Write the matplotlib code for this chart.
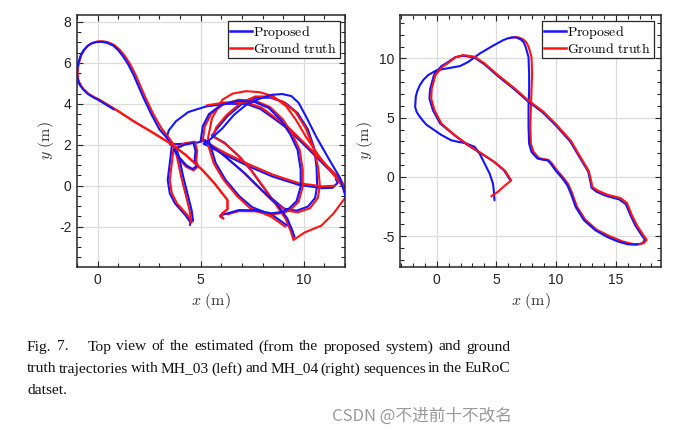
import matplotlib
matplotlib.use("Agg")
import matplotlib.pyplot as plt
import numpy as np
from matplotlib.ticker import MultipleLocator
from matplotlib.lines import Line2D

plt.rcParams['font.family'] = ['Liberation Sans', 'DejaVu Sans']
plt.rcParams['mathtext.fontset'] = 'cm'
plt.rcParams['axes.unicode_minus'] = False

# ---------------- data ----------------
# MH_03 (left), Proposed (blue) segments
mh03_prop_teardrop = [(3.6,1.95),(3.35,2.35),(3.0,2.75),(2.6,3.5),(2.2,4.35),(1.75,5.4),(1.5,5.9),(1.25,6.3),(1.0,6.62),(0.75,6.85),(0.45,6.98),(0.2,7.03),(-0.05,7.02),(-0.3,6.95),(-0.5,6.82),(-0.68,6.62),(-0.82,6.38),(-0.92,6.05),(-0.98,5.75),(-1.0,5.5),(-0.97,5.2),(-0.88,4.95),(-0.72,4.72),(-0.5,4.5),(-0.22,4.32),(0.05,4.18),(0.8,3.72)]
mh03_prop_arc = [(3.35,2.35),(3.45,2.7),(3.8,3.15),(4.4,3.6),(5.25,3.87),(6.2,4.0),(7.2,4.0),(7.9,3.75),(8.6,3.25),(9.2,2.8),(10.1,1.92),(11.07,0.94),(11.72,0.29),(12.1,-0.4)]
mh03_prop_toploop = [(12.05,-0.6),(11.75,0.4),(11.25,1.25),(10.6,2.4),(10.1,3.4),(9.75,4.05),(9.4,4.38),(8.95,4.48),(8.45,4.44),(7.85,4.25),(7.2,3.95),(6.6,3.45),(6.05,2.8),(5.5,2.3),(5.15,2.05)]
mh03_prop_middle = [(5.15,2.05),(6.2,1.5),(7.35,0.94),(8.48,0.45),(9.77,0.04),(10.9,-0.12),(11.4,-0.1),(11.65,0.15),(11.55,0.32)]
mh03_prop_inner = [(5.0,2.2),(5.1,2.9),(5.4,3.5),(6.0,3.95),(6.8,4.15),(7.6,4.1),(8.3,3.8),(8.9,3.2),(9.35,2.5),(9.7,1.75),(9.85,0.78),(9.85,-0.05),(9.65,-0.75),(9.3,-1.1),(9.0,-1.27),(8.45,-1.35),(7.65,-1.2),(6.85,-1.19),(6.3,-1.35),(5.95,-1.45),(6.05,-1.55)]
mh03_prop_right = [(5.55,2.45),(6.15,2.1),(6.85,1.45),(7.45,0.75),(7.95,0.05),(8.45,-0.62),(9.05,-1.12),(9.65,-1.22),(10.2,-1.02),(10.55,-0.6),(10.65,0.0),(10.62,0.9),(10.5,1.85),(10.2,2.75),(9.7,3.55),(9.1,4.05),(8.4,4.3),(7.7,4.3),(7.0,4.0),(6.3,3.4),(5.8,2.8),(5.55,2.45)]
mh03_prop_steep = [(5.2,2.2),(6.2,1.42),(7.15,0.6),(7.95,-0.2),(8.7,-0.9),(9.2,-1.6),(9.45,-2.2),(9.55,-2.5)]
mh03_prop_lower = [(5.4,2.2),(5.73,1.1),(6.2,0.3),(6.86,-0.5),(7.5,-1.05),(8.5,-1.45),(9.2,-1.95)]
mh03_prop_small = [(3.7,1.75),(4.2,2.0),(4.65,2.1),(4.75,1.7),(4.7,1.2),(4.8,0.95),(4.6,0.82),(4.3,1.0),(3.95,1.4),(3.7,1.75)]
mh03_prop_strand1 = [(3.6,1.95),(3.5,1.1),(3.4,0.28),(3.5,-0.37),(3.75,-0.86),(4.25,-1.43),(4.5,-1.78),(4.48,-1.92)]
mh03_prop_strand2 = [(3.85,1.7),(3.95,1.4),(4.15,0.45),(4.4,-0.55),(4.56,-1.2),(4.63,-1.7)]
mh03_prop_link = [(3.5,2.02),(4.2,2.05),(4.8,2.1),(5.2,2.2)]

# MH_03 (left), Ground truth (red) segments
mh03_gt_teardrop = [(3.7,2.0),(3.45,2.35),(3.1,2.8),(2.7,3.5),(2.3,4.35),(1.85,5.4),(1.6,5.9),(1.35,6.3),(1.08,6.64),(0.8,6.88),(0.5,7.01),(0.25,7.06),(0.0,7.05),(-0.25,6.98),(-0.46,6.85),(-0.63,6.65),(-0.78,6.4),(-0.88,6.08),(-0.95,5.78),(-0.97,5.5),(-0.94,5.2),(-0.85,4.95),(-0.68,4.72),(-0.45,4.5),(-0.18,4.34),(0.1,4.2),(0.85,3.74),(1.75,3.15),(2.75,2.55),(3.55,2.05),(4.25,1.52),(5.05,0.8),(5.65,0.14),(6.3,-0.7),(6.3,-1.15),(6.05,-1.35),(5.95,-1.5),(6.1,-1.6)]
mh03_gt_toploop = [(5.35,2.3),(5.55,3.3),(6.05,4.2),(6.55,4.5),(7.2,4.62),(7.85,4.57),(8.5,4.38),(9.15,3.88),(9.62,3.22),(10.1,2.4),(10.75,1.43),(11.4,0.6),(11.9,-0.05),(12.1,-0.5)]
mh03_gt_arc = [(5.3,3.93),(6.2,4.07),(7.2,4.07),(7.95,3.82),(8.65,3.3),(9.25,2.85),(10.15,1.97),(11.1,1.0),(11.78,0.32),(12.15,-0.35)]
mh03_gt_middle = [(5.2,2.15),(6.2,1.6),(7.35,1.04),(8.48,0.55),(9.77,0.12),(10.9,-0.03),(11.5,0.0)]
mh03_gt_inner = [(5.1,2.2),(5.2,2.9),(5.5,3.5),(6.1,3.98),(6.85,4.2),(7.65,4.15),(8.35,3.85),(8.98,3.25),(9.43,2.55),(9.8,1.75),(9.95,0.78),(9.95,-0.05),(9.75,-0.78),(9.38,-1.15),(9.05,-1.32),(8.45,-1.4),(7.65,-1.25),(6.85,-1.24),(6.3,-1.4)]
mh03_gt_right = [(5.6,2.4),(6.2,2.05),(6.9,1.4),(7.5,0.7),(8.0,0.0),(8.5,-0.7),(9.1,-1.2),(9.7,-1.3),(10.3,-1.1),(10.68,-0.6),(10.78,0.0),(10.7,0.9),(10.45,1.9),(10.1,2.8),(9.6,3.6),(9.0,4.1),(8.35,4.36),(7.65,4.36),(6.95,4.05),(6.25,3.45),(5.75,2.85),(5.6,2.4)]
mh03_gt_steep = [(5.2,2.25),(6.1,1.5),(7.05,0.67),(7.88,-0.15),(8.62,-0.88),(9.12,-1.62),(9.38,-2.25),(9.5,-2.65),(10.05,-2.28),(10.85,-1.95),(11.45,-1.35),(11.85,-0.8),(12.0,-0.6)]
mh03_gt_lower = [(5.3,2.2),(5.63,1.1),(6.1,0.3),(6.76,-0.5),(7.4,-1.1),(8.4,-1.5),(9.1,-2.0)]
mh03_gt_small = [(3.75,1.85),(4.25,2.08),(4.72,2.15),(4.83,1.7),(4.78,1.2),(4.88,0.95),(4.65,0.75),(4.3,0.92),(3.9,1.35)]
mh03_gt_strand1 = [(3.7,1.95),(3.6,1.1),(3.5,0.28),(3.6,-0.37),(3.85,-0.86),(4.35,-1.43),(4.6,-1.75)]
mh03_gt_strand2 = [(3.75,1.75),(3.85,1.4),(4.05,0.45),(4.3,-0.55),(4.46,-1.2),(4.55,-1.8)]

# MH_04 (right)
mh04_prop = [(6.15,-0.25),(5.65,0.55),(4.8,1.28),(3.7,2.0),(2.55,2.72),(1.45,3.55),(0.3,4.5),(-0.3,5.6),(-0.6,6.6),(-0.55,7.4),(-0.22,8.6),(0.4,9.35),(0.9,9.65),(1.55,10.1),(2.2,10.22),(3.15,10.08),(4.0,9.5),(5.1,8.53),(6.5,7.4),(7.6,6.42),(8.9,5.43),(10.0,4.33),(11.2,2.98),(12.0,1.62),(12.7,0.45),(12.88,-0.38),(12.98,-0.92),(13.4,-1.25),(14.2,-1.6),(15.3,-1.9),(15.85,-2.3),(16.25,-3.25),(16.65,-4.1),(17.1,-4.8),(17.45,-5.3),(17.25,-5.6),(16.7,-5.72),(16.0,-5.68),(15.2,-5.45),(14.3,-5.07),(13.3,-4.5),(12.35,-3.66),(11.65,-2.54),(11.25,-1.41),(10.95,-0.7),(10.55,-0.14),(9.95,0.56),(9.55,1.13),(9.3,1.4),(8.9,1.45),(8.45,1.55),(7.95,2.1),(7.75,2.8),(7.7,4.2),(7.7,5.9),(7.75,7.3),(7.75,8.7),(7.7,10.1),(7.45,11.0),(7.3,11.35),(7.05,11.6),(6.7,11.75),(6.35,11.78),(6.0,11.7),(5.6,11.55),(4.6,11.0),(3.6,10.4),(2.65,9.7),(1.95,9.35),(0.85,9.15),(0.0,9.0),(-0.7,8.6),(-1.1,8.2),(-1.4,7.75),(-1.62,7.25),(-1.75,6.75),(-1.8,5.9),(-1.68,5.5),(-1.5,5.2),(-1.2,4.8),(-0.85,4.4),(0.38,3.55),(1.2,3.1),(1.78,2.96),(2.34,2.87),(3.18,2.54),(3.6,1.97),(4.02,1.13),(4.44,0.28),(4.72,-0.56),(4.8,-1.26),(4.85,-1.97)]
mh04_gt_a = [(4.58,-1.63),(5.13,-1.26),(5.69,-0.75),(6.25,-0.3),(5.75,0.5),(4.9,1.22),(3.8,1.95),(2.65,2.68),(1.55,3.5),(0.4,4.5),(-0.17,5.6),(-0.45,6.6),(-0.42,7.4),(-0.1,8.6),(0.5,9.3),(0.95,9.6),(1.6,10.1),(2.2,10.28),(3.18,10.14),(4.02,9.57),(5.13,8.6),(6.53,7.47),(7.65,6.48),(8.95,5.5),(10.05,4.4),(11.25,3.05),(12.05,1.68),(12.75,0.5),(12.95,-0.35),(13.05,-0.85),(13.5,-1.15),(14.3,-1.5),(15.4,-1.78),(15.95,-2.2),(16.35,-3.2),(16.8,-4.1),(17.25,-4.8),(17.6,-5.3),(17.4,-5.55),(17.0,-5.68)]
mh04_gt_b = [(17.0,-5.68),(16.4,-5.65),(15.6,-5.45),(14.5,-5.0),(13.4,-4.45),(12.45,-3.6),(11.75,-2.5),(11.35,-1.35),(11.05,-0.65),(10.65,-0.1),(10.05,0.6),(9.65,1.15),(9.35,1.45),(8.95,1.5),(8.55,1.6),(8.1,2.15),(7.9,2.8),(7.85,4.2),(7.9,5.9),(7.95,7.3),(8.0,8.7),(7.95,10.1),(7.7,11.0),(7.5,11.38),(7.25,11.6),(6.9,11.76),(6.55,11.8),(6.1,11.7)]

legend_labels = [r'$\mathrm{Proposed}$', r'$\mathrm{Ground\ truth}$']
caption_lines = [
    "Fig. 7.|Top view of the estimated (from the proposed system) and ground",
    "truth trajectories with MH_03 (left) and MH_04 (right) sequences in the EuRoC",
    "datset.",
]
watermark = "CSDN @不进前十不改名"

# ---------------- figure ----------------
W, H = 682, 434
fig = plt.figure(figsize=(W/100, H/100), dpi=100)
BLUE, RED = '#1414ff', '#ff1414'
LW = 1.5
FRAME = '#262626'

def px_axes(l, t, r, b):
    return fig.add_axes([l/W, 1-b/H, (r-l)/W, (b-t)/H])

axL = px_axes(77, 15, 345, 267)
axR = px_axes(400, 15, 661, 267)

def draw(ax, seg, color, z):
    a = np.array(seg, dtype=float)
    ax.plot(a[:, 0], a[:, 1], color=color, lw=LW, zorder=z,
            solid_joinstyle='round', solid_capstyle='round')

gt_left = [mh03_gt_teardrop, mh03_gt_toploop, mh03_gt_arc, mh03_gt_middle, mh03_gt_inner,
           mh03_gt_right, mh03_gt_steep, mh03_gt_lower, mh03_gt_small, mh03_gt_strand1, mh03_gt_strand2]
prop_left = [mh03_prop_teardrop, mh03_prop_arc, mh03_prop_toploop, mh03_prop_middle, mh03_prop_inner,
             mh03_prop_right, mh03_prop_steep, mh03_prop_lower, mh03_prop_small, mh03_prop_strand1,
             mh03_prop_strand2, mh03_prop_link]
for i, s in enumerate(prop_left):
    draw(axL, s, BLUE, 3 if i % 2 == 0 else 2)
for i, s in enumerate(gt_left):
    draw(axL, s, RED, 2.5)
draw(axL, mh03_gt_teardrop[26:], RED, 3.5)

draw(axR, mh04_gt_b, RED, 2)
draw(axR, mh04_prop, BLUE, 3)
draw(axR, mh04_gt_a, RED, 4)

def style(ax, xlim, ylim, xmaj, xmin, ymaj, ymin, ylab_x):
    ax.set_xlim(*xlim)
    ax.set_ylim(*ylim)
    ax.xaxis.set_major_locator(MultipleLocator(xmaj))
    ax.xaxis.set_minor_locator(MultipleLocator(xmin))
    ax.yaxis.set_major_locator(MultipleLocator(ymaj))
    ax.yaxis.set_minor_locator(MultipleLocator(ymin))
    ax.grid(True, which='major', color='#dcdcdc', lw=0.9, zorder=0)
    ax.set_axisbelow(True)
    ax.tick_params(which='both', direction='in', top=True, right=True,
                   color=FRAME, width=0.8, labelsize=10, pad=4, labelcolor='#222222')
    ax.tick_params(which='major', length=4)
    ax.tick_params(which='minor', length=3)
    for sp in ax.spines.values():
        sp.set_color(FRAME)
        sp.set_linewidth(1.1)
    ax.set_xlabel(r'$x\ (\mathrm{m})$', fontsize=11.5, color='#333333')
    ax.set_ylabel(r'$y\ (\mathrm{m})$', fontsize=11.5, color='#333333')
    ax.xaxis.set_label_coords(0.5, -0.095)
    ax.yaxis.set_label_coords(ylab_x, 0.5)

style(axL, (-1.0, 12.0), (-3.97, 8.34), 5, 1, 2, 0.5, -0.078)
style(axR, (-3.07, 18.8), (-7.6, 13.66), 5, 1, 5, 1, -0.096)

handles = [Line2D([], [], color=BLUE, lw=1.8), Line2D([], [], color=RED, lw=1.8)]
for ax, bx in ((axL, 0.981), (axR, 0.973)):
    leg = ax.legend(handles, legend_labels, loc='upper right', bbox_to_anchor=(bx, 0.976),
                    borderaxespad=0, fancybox=False, framealpha=1, edgecolor=FRAME,
                    fontsize=10, handlelength=1.55, handletextpad=0.1, labelspacing=0.05,
                    borderpad=0.2)
    leg.get_frame().set_linewidth(0.9)
    leg.set_zorder(10)

# ---------------- caption (justified) ----------------
fig.canvas.draw()
renderer = fig.canvas.get_renderer()
CAP_FS = 11.15
x0, x1 = 27, 510
baselines = [350.5, 372.5, 394]
for li, (line, yb) in enumerate(zip(caption_lines, baselines)):
    extra = 0.0
    if '|' in line:
        head, rest = line.split('|')
        words = head.split(' ') + rest.split(' ')
        big_gap_after = len(head.split(' ')) - 1
    else:
        words = line.split(' ')
        big_gap_after = -1
    texts = []
    for w in words:
        t = fig.text(0, 1 - yb/H, w, fontsize=CAP_FS, family='Liberation Serif',
                     va='baseline', ha='left', color='#111111')
        texts.append(t)
    widths = [t.get_window_extent(renderer).width for t in texts]
    justify = li < len(caption_lines) - 1
    if big_gap_after >= 0:
        extra = 14.0
    if justify and len(words) > 1:
        gap = (x1 - x0 - sum(widths) - extra) / (len(words) - 1)
    else:
        gap = 3.3
    x = x0
    for i, (t, w) in enumerate(zip(texts, widths)):
        t.set_x(x / W)
        x += w + gap
        if i == big_gap_after:
            x += extra

fig.text(512/W, 1 - 420.5/H, watermark, fontsize=12, ha='right', va='baseline',
         color='#9a9a9a', family=['Noto Sans CJK SC', 'DejaVu Sans'])

fig.savefig('out.png', dpi=100, facecolor='white')
